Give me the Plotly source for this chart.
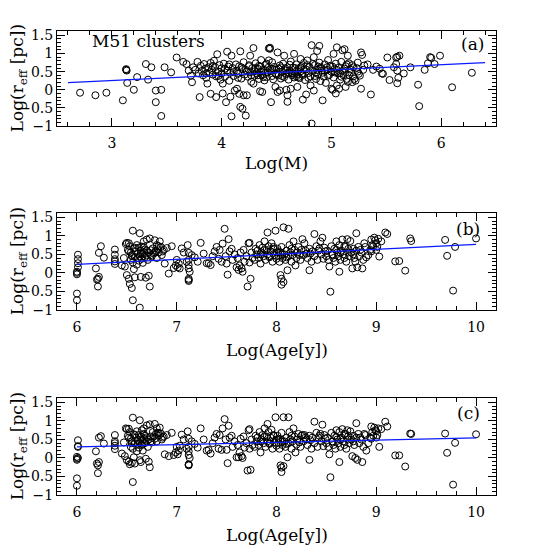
import plotly.graph_objects as go

# ---------- panel (a): size vs mass ----------
mass_a = [
    2.71, 2.85, 2.95, 3.10, 3.13, 3.13, 3.135, 3.14, 3.20, 3.23, 3.31, 3.33, 3.36, 3.40, 3.40,
    3.45, 3.45, 3.48, 3.54, 3.59, 3.65, 3.68, 3.70, 3.72, 3.73, 3.74, 3.76, 3.78, 3.79, 3.80,
    3.81, 3.82, 3.83, 3.84, 3.85, 3.86, 3.87, 3.88, 3.89, 3.90, 3.90,
    3.91, 3.92, 3.93, 3.94, 3.95, 3.95, 3.96, 3.97, 3.98, 3.99, 4.00, 4.00,
    4.01, 4.01, 4.02, 4.03, 4.04, 4.05, 4.05, 4.06, 4.07, 4.08, 4.08, 4.09, 4.09, 4.10,
    4.11, 4.12, 4.13, 4.14, 4.14, 4.15, 4.16, 4.16, 4.17, 4.17, 4.18, 4.19, 4.19, 4.20, 4.20,
    4.21, 4.22, 4.22, 4.23, 4.24, 4.25, 4.26, 4.26, 4.27, 4.28, 4.29, 4.29, 4.30, 4.30,
    4.31, 4.32, 4.33, 4.34, 4.35, 4.35, 4.36, 4.37, 4.37, 4.38, 4.39, 4.40, 4.40,
    4.41, 4.42, 4.43, 4.43, 4.44, 4.44, 4.45, 4.45, 4.46, 4.46, 4.47, 4.48, 4.49, 4.49, 4.50,
    4.51, 4.51, 4.52, 4.53, 4.53, 4.54, 4.55, 4.56, 4.57, 4.57, 4.58, 4.59, 4.59, 4.60, 4.60, 4.60,
    4.61, 4.62, 4.63, 4.63, 4.64, 4.65, 4.66, 4.66, 4.67, 4.68, 4.69, 4.69, 4.70,
    4.71, 4.72, 4.72, 4.73, 4.74, 4.74, 4.75, 4.76, 4.77, 4.77, 4.78, 4.79, 4.80,
    4.81, 4.81, 4.82, 4.82, 4.83, 4.84, 4.84, 4.85, 4.86, 4.87, 4.87, 4.88, 4.89, 4.89, 4.90,
    4.91, 4.92, 4.92, 4.93, 4.94, 4.95, 4.96, 4.97, 4.98, 4.99, 5.00, 5.00,
    5.01, 5.02, 5.02, 5.03, 5.04, 5.04, 5.05, 5.05, 5.06, 5.07, 5.07, 5.08, 5.09, 5.10, 5.10,
    5.11, 5.12, 5.13, 5.13, 5.14, 5.15, 5.15, 5.16, 5.17, 5.18, 5.19, 5.19, 5.20,
    5.21, 5.22, 5.23, 5.24, 5.25, 5.26, 5.27, 5.27, 5.28, 5.29, 5.30,
    5.33, 5.36, 5.38, 5.41, 5.44, 5.46, 5.47, 5.51, 5.53, 5.57, 5.59, 5.60, 5.62, 5.59, 5.60,
    5.61, 5.60, 5.66, 5.72, 5.79, 5.80, 5.85, 5.88, 5.90, 5.91, 5.94, 5.99, 6.10, 6.28,
    # extra points in the crowded band
    3.86, 3.92, 3.97, 4.03, 4.07, 4.11, 4.15, 4.18, 4.23, 4.27, 4.31, 4.34, 4.38, 4.42, 4.46,
    4.50, 4.54, 4.58, 4.62, 4.65, 4.68, 4.72, 4.75, 4.79, 4.83, 4.86, 4.90, 4.94, 4.97, 5.01,
    5.05, 5.08, 5.12, 5.16, 5.20, 5.24, 4.25, 4.33, 4.41, 4.48, 4.55, 4.61, 4.67, 4.73, 4.78,
    4.85, 4.91, 4.96, 5.03, 5.09, 5.14, 4.36, 4.52, 4.64, 4.70, 4.88,
]
reff_a = [
    -0.08, -0.15, -0.08, -0.29, 0.57, 0.55, 0.53, 0.19, 0.00, 0.35, 0.71, 0.28, 0.62, -0.34, -0.02,
    0.00, -0.72, 0.62, 0.48, 0.89, 0.77, 0.71, 0.53, 0.39, 0.21, 0.62, 0.55, 0.77, 0.45, -0.20,
    0.66, 0.52, 0.40, 0.71, 0.58, 0.33, 0.17, 0.62, 0.48, -0.11, 0.74,
    0.55, 0.42, 0.80, 0.63, -0.20, 0.37, 0.98, 0.50, 0.68, 0.28, 0.59, 0.45,
    0.17, -0.10, 0.72, 0.36, -0.34, 1.05, 0.53, 0.64, 0.25, -0.19, 0.47, -0.73, 0.94, 0.60,
    0.38, -0.02, 0.70, 0.03, 0.52, 0.44, -0.11, 0.65, -0.47, 1.06, 0.31, -0.52, 0.57, -0.15, 0.76,
    0.42, -0.71, 0.55, -0.15, 0.36, 0.68, 0.94, 0.48, 0.22, 0.60, 1.15, 0.17, 0.51, 0.39,
    0.73, 0.45, 0.58, 0.30, -0.04, 0.64, 0.82, 0.41, -0.06, 0.55, 0.26, 0.69, 0.47,
    0.35, 0.60, 1.14, 0.81, 1.16, 1.13, -0.34, 0.52, 0.76, 0.38, 0.29, 0.63, 0.08, 0.45, 0.56,
    1.03, -0.06, 0.40, -0.02, 0.67, 0.31, 0.50, 0.72, 0.94, 0.35, 0.59, 0.00, 0.44, -0.33, -0.15, 0.62,
    0.28, 0.53, 0.03, 0.78, 0.40, 0.61, 0.99, 0.34, 0.49, 0.70, 0.08, 0.43, 0.58,
    0.32, 0.85, 0.51, 0.65, -0.27, 0.41, 0.74, 0.27, -0.13, 0.56, 0.81, 0.46, 0.63,
    0.12, 0.37, 1.23, -0.93, 0.52, -0.02, 0.90, 0.68, 0.30, 1.07, 0.55, 0.43, 1.21, 0.75, 0.24,
    0.60, -0.29, 0.47, 0.36, 0.70, 0.19, 0.55, 0.82, 0.41, 0.66, 0.03, 0.50,
    0.00, 0.99, 0.34, 0.58, -0.10, 0.72, 0.12, 1.17, 0.45, 0.03, 0.62, 0.28, 0.77, 1.09, 0.52,
    0.40, 1.12, 0.08, 0.65, 0.30, 0.22, 0.94, 0.73, 0.56, 0.48, 0.21, 0.68, 0.37,
    0.30, 0.25, 0.60, 0.75, 0.44, 0.39, 1.03, 0.03, 0.96, 0.55, 0.67,
    0.70, -0.13, 0.55, 0.64, 0.58, 0.45, 0.44, 0.89, 0.27, 0.62, 0.89, 0.91, 0.94, 0.71, 0.53,
    0.33, 0.18, 0.45, 0.62, 0.14, -0.45, 0.55, 0.73, 0.90, 0.88, 0.71, 0.94, 0.07, 0.47,
    # extra points in the crowded band
    0.45, 0.66, 0.38, 0.58, 0.70, 0.49, 0.33, 0.62, 0.51, 0.40, 0.60, 0.66, 0.35, 0.48, 0.57,
    0.42, 0.62, 0.53, 0.69, 0.45, 0.37, 0.62, 0.55, 0.33, 0.71, 0.47, 0.60, 0.52, 0.39, 0.64,
    0.55, 0.46, 0.58, 0.41, 0.62, 0.50, 0.65, 0.40, 0.72, 0.56, 0.38, 0.47, 0.60, 0.44, 0.68,
    0.38, 0.53, 0.62, 0.48, 0.36, 0.70, 0.50, 0.58, 0.46, 0.35, 0.64,
]

# ---------- panels (b) and (c): size vs age (same clusters) ----------
age_bc = [
    6.00, 6.00, 6.00, 6.00, 6.00, 6.01, 6.01, 6.01, 6.01,
    6.19, 6.20, 6.21, 6.21, 6.22, 6.22, 6.24, 6.27,
    6.38, 6.38, 6.38, 6.38, 6.38,
    6.45, 6.47, 6.48, 6.49, 6.50, 6.50, 6.51, 6.52, 6.52, 6.53, 6.53, 6.54, 6.54, 6.55, 6.55,
    6.56, 6.56, 6.56, 6.57, 6.57, 6.58, 6.58, 6.59, 6.60, 6.60,
    6.61, 6.62, 6.62, 6.63, 6.63, 6.63, 6.64, 6.64, 6.65, 6.65, 6.66, 6.66, 6.67,
    6.67, 6.68, 6.68, 6.69, 6.70, 6.70, 6.71, 6.72, 6.72, 6.73, 6.73, 6.74, 6.75,
    6.76, 6.77, 6.78, 6.79, 6.80, 6.80, 6.81, 6.82, 6.83, 6.84, 6.85, 6.86, 6.88, 6.90,
    6.92, 6.95, 6.97, 6.99,
    7.00, 7.01, 7.02, 7.03, 7.05, 7.07, 7.10, 7.11, 7.12, 7.12, 7.12, 7.12, 7.12, 7.12, 7.12,
    7.13, 7.15, 7.18, 7.21, 7.24, 7.27, 7.30,
    7.32, 7.34, 7.36, 7.38, 7.40, 7.42, 7.43, 7.45, 7.46, 7.48, 7.49, 7.50, 7.51, 7.52, 7.53,
    7.55, 7.56, 7.58, 7.60,
    7.61, 7.62, 7.63, 7.64, 7.65, 7.66, 7.67, 7.68, 7.70, 7.71, 7.72, 7.73, 7.73, 7.74, 7.75,
    7.76, 7.78, 7.79, 7.80,
    7.81, 7.82, 7.83, 7.84, 7.85, 7.86, 7.87, 7.88, 7.89, 7.90, 7.91, 7.91, 7.92, 7.93, 7.94,
    7.95, 7.96, 7.97, 7.98, 7.99, 8.00, 8.00,
    8.01, 8.02, 8.03, 8.04, 8.04, 8.05, 8.05, 8.05, 8.06, 8.07, 8.07, 8.08, 8.09, 8.10, 8.11,
    8.12, 8.12, 8.13, 8.14, 8.15, 8.16, 8.17, 8.18, 8.19, 8.20,
    8.21, 8.22, 8.24, 8.25, 8.26, 8.27, 8.28, 8.30, 8.31, 8.33, 8.33, 8.35, 8.36, 8.38, 8.38,
    8.40, 8.41, 8.42, 8.44, 8.45, 8.46, 8.47, 8.48, 8.50,
    8.51, 8.52, 8.53, 8.54, 8.55, 8.56, 8.57, 8.58, 8.59, 8.60, 8.61, 8.62, 8.63, 8.63, 8.64,
    8.65, 8.66, 8.67, 8.68, 8.69, 8.70, 8.71, 8.72, 8.73, 8.74,
    8.75, 8.76, 8.77, 8.78, 8.79, 8.80, 8.80, 8.81, 8.82, 8.83, 8.85, 8.86, 8.87, 8.88, 8.90,
    8.92, 8.94, 8.95, 8.96, 8.97, 8.98, 8.99, 9.00, 9.00,
    9.01, 9.02, 9.03, 9.05, 9.09, 9.11, 9.19, 9.23, 9.29, 9.34, 9.35, 9.69, 9.71, 9.77, 9.79,
    10.00,
    # extra points in the crowded bands
    6.52, 6.55, 6.58, 6.61, 6.64, 6.67, 6.70, 6.74, 6.78, 6.82, 6.87, 7.84, 7.88, 7.93, 7.97,
    8.02, 8.06, 8.10, 8.15, 8.23, 8.29, 8.34, 8.43, 8.49, 8.56, 8.60, 8.64, 8.68, 8.72, 8.77,
    8.84, 8.89, 8.95,
]
reff_b = [
    -0.74, -0.56, 0.00, -0.04, 0.03, 0.15, 0.26, 0.37, 0.49,
    0.12, -0.18, -0.16, -0.37, -0.11, 0.54, 0.72, 0.41,
    0.63, 0.49, 0.37, 0.31, 0.24,
    0.20, 0.40, 0.17, 0.78, -0.06, 0.81, 0.62, 0.80, -0.16, 0.72, -0.30, 0.55, 0.35, -0.41, 0.48,
    1.14, -0.74, 0.28, 0.66, 0.10, 0.43, -0.12, 0.58, 0.75, 0.22,
    0.52, 0.68, 0.33, 1.07, -0.94, 0.45, 0.60, -0.11, 0.71, 0.38, 0.50, 0.27, 0.56,
    0.85, 0.42, 0.63, -0.13, 0.47, 0.90, 0.35, 0.55, -0.08, 0.93, -0.37, 0.61, 0.44,
    0.66, 0.52, 0.88, 0.60, 0.75, 0.40, 0.64, 0.55, 0.85, 0.70, 0.48, 0.58, 0.25, 0.67,
    -0.02, 0.72, 0.13, 0.20,
    0.35, 0.15, 0.25, 0.12, 0.66, 0.55, 0.30, 0.75, 0.54, 0.35, 0.21, 0.12, -0.19, -0.22, -0.16,
    0.03, 0.48, 0.42, 0.30, 0.81, 0.52, 0.26,
    0.26, 0.21, 0.45, 0.58, 0.70, 0.38, 0.62, 0.30, 0.79, 1.19, 0.45, 0.25, -0.05, 0.91, 0.58,
    0.65, 0.35, 0.50, 0.15,
    0.40, 0.08, 0.20, 0.55, 0.12, 0.03, 0.62, 0.30, 0.45, -0.37, 0.80, 0.81, 0.28, -0.16, 0.55,
    0.40, 0.35, 0.65, 0.50,
    0.60, 0.40, 0.75, 0.25, 0.55, 0.68, 0.45, 0.85, 0.35, 0.62, 1.09, 0.50, 0.72, 0.42, 0.58,
    0.80, 0.30, 0.65, 0.48, 1.14, 0.55, 0.38,
    0.65, 0.45, 0.30, -0.06, 0.55, -0.16, -0.32, 0.70, 0.40, -0.25, 1.23, 0.50, 0.35, 0.60, 0.07,
    1.19, 0.45, 0.75, 0.55, 0.30, 0.48, 0.85, 0.62, 0.20, 0.40,
    0.55, 0.70, 0.35, 0.62, 0.91, 0.48, 0.80, 0.52, 0.40, 0.07, 0.65, 0.30, 0.58, 1.05, 0.45,
    0.72, 0.35, 0.60, 0.85, 0.50, 0.95, 0.38, 0.68, 0.45,
    0.60, 0.35, 0.17, -0.51, 0.72, 0.50, 0.40, 0.65, 0.30, 0.85, 0.55, 0.45, 0.03, 0.75, 0.35,
    0.60, 0.90, 0.50, 0.40, 0.70, 0.30, 0.91, 0.55, 0.45, 0.86,
    0.55, 0.12, 0.65, 0.40, 0.30, 1.07, 0.60, 0.15, 0.70, 0.45, 0.55, 0.12, 0.35, 0.80, 0.42,
    0.48, 0.62, 0.90, 0.75, 0.72, 0.95, 0.88, 0.62, 0.80,
    0.70, 0.92, 0.44, 0.85, 1.09, 1.05, 0.31, 0.32, 0.06, 0.93, 0.86, 0.89, 0.46, -0.48, 0.70,
    0.93,
    0.58, 0.45, 0.68, 0.40, 0.52, 0.70, 0.60, 0.48, 0.55, 0.72, 0.62, 0.50, 0.62, 0.45, 0.70,
    0.58, 0.50, 0.42, 0.65, 0.48, 0.60, 0.52, 0.66, 0.58, 0.48, 0.62, 0.55, 0.72, 0.65, 0.50,
    0.62, 0.70, 0.58,
]
reff_c = [
    -0.75, -0.55, 0.03, -0.02, -0.05, 0.00, 0.30, 0.32, 0.48,
    0.18, -0.15, -0.20, -0.41, -0.11, 0.55, 0.59, 0.39,
    0.62, 0.45, 0.40, 0.33, 0.24,
    0.12, 0.42, 0.05, 0.80, -0.06, 0.78, 0.60, 0.79, -0.10, 0.70, -0.17, 0.52, 0.30, -0.13, 0.45,
    1.09, -0.65, 0.25, 0.64, 0.02, 0.40, -0.15, 0.55, 0.72, 0.18,
    0.48, 0.62, 0.28, 1.02, -0.06, 0.40, 0.57, -0.11, 0.75, 0.35, 0.47, 0.20, 0.52,
    0.80, 0.40, 0.60, -0.02, 0.45, 0.88, 0.30, 0.50, -0.10, 0.91, -0.25, 0.58, 0.42,
    0.70, 0.58, 0.92, 0.65, 0.80, 0.45, 0.68, 0.60, 0.82, 0.66, 0.50, 0.55, 0.10, 0.62,
    0.05, 0.68, 0.08, 0.15,
    0.30, 0.10, 0.20, 0.33, 0.63, 0.50, 0.25, 0.72, 0.52, 0.30, 0.18, 0.08, -0.17, -0.20, -0.18,
    0.00, 0.45, 0.38, 0.28, 0.80, 0.50, 0.20,
    0.22, 0.12, 0.40, 0.55, 0.65, 0.25, 0.62, 0.22, 0.80, 1.05, 0.50, 0.22, -0.14, 0.87, 0.55,
    0.60, 0.30, 0.45, 0.02,
    0.35, 0.02, 0.15, 0.52, 0.05, 0.00, 0.58, 0.28, 0.40, -0.34, 0.75, 0.78, 0.25, -0.32, 0.50,
    0.35, 0.30, 0.60, 0.45,
    0.55, 0.35, 0.70, 0.15, 0.50, 0.62, 0.40, 0.80, 0.30, 0.58, 0.92, 0.45, 0.70, 0.38, 0.55,
    0.76, 0.25, 0.60, 0.42, 1.10, 0.50, 0.33,
    0.60, 0.40, 0.25, -0.20, 0.50, -0.26, -0.38, 0.68, 0.35, -0.22, 1.10, 0.45, 0.30, 0.55, 0.02,
    1.10, 0.40, 0.70, 0.50, 0.25, 0.45, 0.80, 0.58, 0.15, 0.36,
    0.50, 0.65, 0.30, 0.60, 0.62, 0.45, 0.62, 0.50, 0.35, -0.05, 0.60, 0.25, 0.55, 0.98, 0.40,
    0.68, 0.30, 0.55, 0.65, 0.45, 0.90, 0.32, 0.62, 0.40,
    0.55, 0.30, 0.10, -0.52, 0.68, 0.45, 0.35, 0.60, 0.25, 0.75, 0.50, 0.40, -0.11, 0.70, 0.30,
    0.55, 0.78, 0.45, 0.35, 0.65, 0.25, 0.75, 0.50, 0.40, 0.72,
    0.50, 0.05, 0.60, 0.35, 0.00, 0.94, 0.55, -0.05, 0.65, 0.40, 0.50, -0.11, 0.30, 0.65, 0.20,
    0.40, 0.55, 0.85, 0.70, 0.60, 0.82, 0.75, 0.55, 0.72,
    0.62, 0.80, 0.30, 0.78, 0.98, 0.85, 0.07, 0.07, -0.23, 0.66, 0.65, 0.66, 0.14, -0.72, 0.41,
    0.64,
    0.55, 0.40, 0.62, 0.38, 0.50, 0.65, 0.56, 0.45, 0.52, 0.68, 0.58, 0.45, 0.58, 0.40, 0.62,
    0.52, 0.45, 0.38, 0.60, 0.42, 0.55, 0.48, 0.60, 0.52, 0.44, 0.56, 0.50, 0.65, 0.60, 0.45,
    0.55, 0.62, 0.52,
]

# fitted relations (end points of the blue lines)
fit_x_a = [2.60, 6.40]
fit_y_a = [0.20, 0.75]
fit_x_b = [6.00, 10.00]
fit_y_b = [0.23, 0.77]
fit_x_c = [6.00, 10.00]
fit_y_c = [0.30, 0.545]

assert len(mass_a) == len(reff_a), (len(mass_a), len(reff_a))
assert len(age_bc) == len(reff_b) == len(reff_c), (len(age_bc), len(reff_b), len(reff_c))

SERIF = "DejaVu Serif"
fig = go.Figure()

panels = [
    (mass_a, reff_a, fit_x_a, fit_y_a, "x", "y"),
    (age_bc, reff_b, fit_x_b, fit_y_b, "x2", "y2"),
    (age_bc, reff_c, fit_x_c, fit_y_c, "x3", "y3"),
]
for xs, ys, fx, fy, xa, ya in panels:
    fig.add_trace(go.Scatter(
        x=xs, y=ys, mode="markers", xaxis=xa, yaxis=ya, showlegend=False,
        marker=dict(symbol="circle-open", size=7, color="black", line=dict(width=1, color="black")),
    ))
    fig.add_trace(go.Scatter(
        x=fx, y=fy, mode="lines", xaxis=xa, yaxis=ya, showlegend=False,
        line=dict(color="#0a1aff", width=1.2),
    ))


def xax(rng, anchor):
    return dict(
        range=rng, anchor=anchor, domain=[0, 1], dtick=1, tick0=0,
        showline=True, linecolor="black", linewidth=1, mirror="allticks",
        ticks="inside", ticklen=8, tickwidth=1, tickcolor="black",
        showgrid=False, zeroline=False, ticklabelstandoff=4,
        tickfont=dict(family=SERIF, size=14, color="black"),
        minor=dict(ticks="inside", ticklen=4, tickcolor="black", dtick=0.2, tick0=0, showgrid=False),
    )


def yax(domain, anchor):
    return dict(
        range=[-1.0, 1.62], domain=domain, anchor=anchor, dtick=0.5, tick0=0,
        showline=True, linecolor="black", linewidth=1, mirror="allticks",
        ticks="inside", ticklen=8, tickwidth=1, tickcolor="black",
        showgrid=False, zeroline=False,
        tickfont=dict(family=SERIF, size=14, color="black"),
        minor=dict(ticks="inside", ticklen=4, tickcolor="black", dtick=0.1, tick0=0, showgrid=False),
    )


ytitle = "Log(r<sub>eff</sub> [pc])"
ann_font = dict(family=SERIF, size=17, color="black")
annotations = [
    dict(text="M51 clusters", xref="x domain", yref="y domain", x=0.075, y=0.895,
         xanchor="left", yanchor="middle", showarrow=False, font=ann_font),
    dict(text="(a)", xref="x domain", yref="y domain", x=0.978, y=0.86,
         xanchor="right", yanchor="middle", showarrow=False, font=ann_font),
    dict(text="(b)", xref="x2 domain", yref="y2 domain", x=0.968, y=0.83,
         xanchor="right", yanchor="middle", showarrow=False, font=ann_font),
    dict(text="(c)", xref="x3 domain", yref="y3 domain", x=0.968, y=0.85,
         xanchor="right", yanchor="middle", showarrow=False, font=ann_font),
    dict(text="Log(M)", xref="paper", yref="paper", x=0.5, y=0.7155,
         xanchor="center", yanchor="middle", showarrow=False, font=ann_font),
    dict(text="Log(Age[y])", xref="paper", yref="paper", x=0.5, y=0.3125,
         xanchor="center", yanchor="middle", showarrow=False, font=ann_font),
    dict(text="Log(Age[y])", xref="paper", yref="paper", x=0.5, y=-0.086,
         xanchor="center", yanchor="middle", showarrow=False, font=ann_font),
]
for yc in [0.8975, 0.5035, 0.1045]:
    annotations.append(dict(
        text=ytitle, xref="paper", yref="paper", x=-0.087, y=yc, textangle=-90,
        xanchor="center", yanchor="middle", showarrow=False, font=ann_font,
    ))

# the page body adds an 8px margin, so the figure is made 8px smaller and shifted
fig.update_layout(
    width=546, height=546,
    margin=dict(l=49, r=58, t=23, b=59),
    paper_bgcolor="white", plot_bgcolor="white",
    xaxis=xax([2.5, 6.5], "y"),
    yaxis=yax([0.795, 1.0], "x"),
    xaxis2=xax([5.8, 10.2], "y2"),
    yaxis2=yax([0.399, 0.608], "x2"),
    xaxis3=xax([5.8, 10.2], "y3"),
    yaxis3=yax([0.0, 0.209], "x3"),
    annotations=annotations,
    font=dict(family=SERIF, color="black"),
)

fig.write_html("out.html")
